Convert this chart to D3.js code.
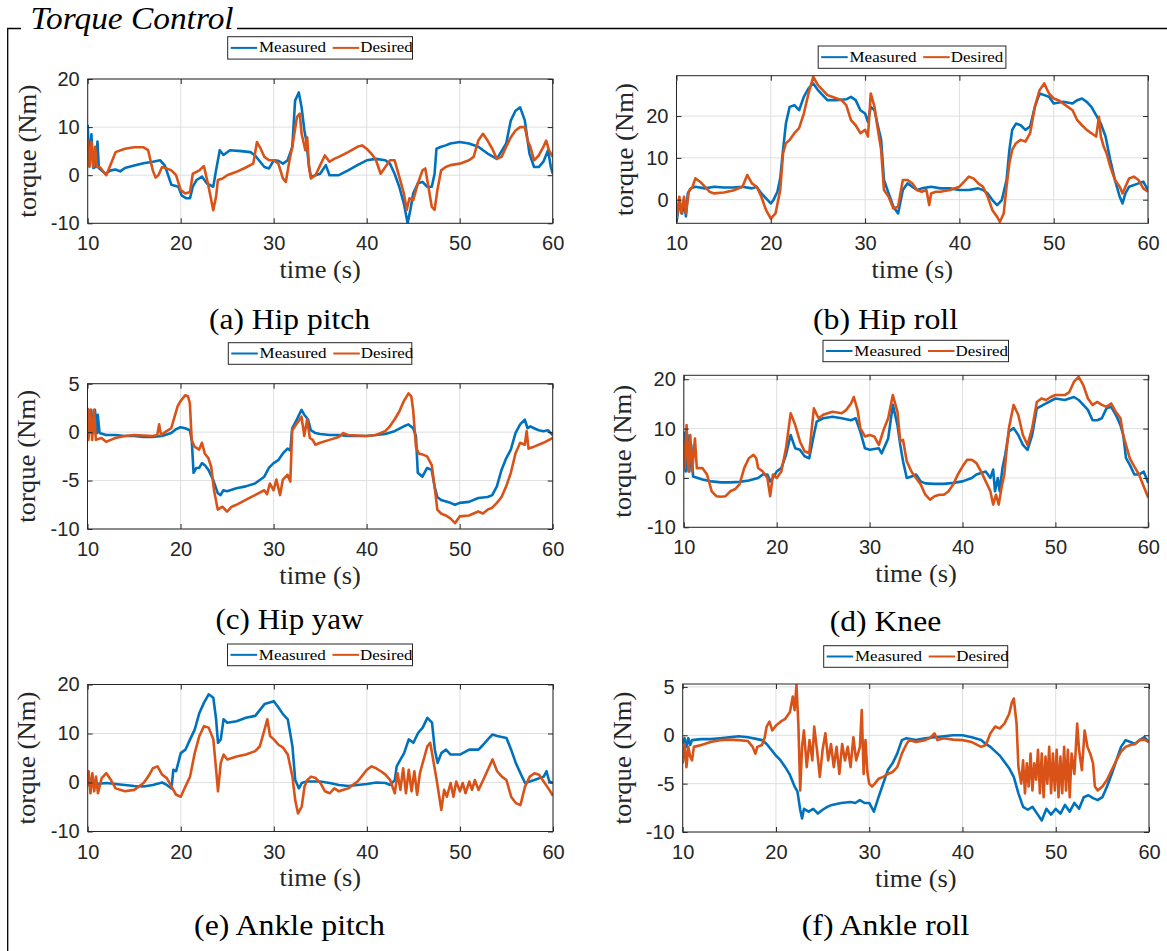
<!DOCTYPE html>
<html><head><meta charset="utf-8">
<script src="https://cdn.jsdelivr.net/npm/d3@7"></script>
<style>body{margin:0;background:#fff}</style>
</head><body>
<svg id="chart" width="1167" height="951"></svg>
<script>
// ---------------- DATA ----------------
const title = "Torque Control";
const seriesNames = ["Measured", "Desired"];
const xTicks = [10, 20, 30, 40, 50, 60];
const captions = ["(a) Hip pitch", "(b) Hip roll", "(c) Hip yaw", "(d) Knee", "(e) Ankle pitch", "(f) Ankle roll"];
const yTicksA = [-10, 0, 10, 20];
const yTicksB = [0, 10, 20];
const yTicksC = [-10, -5, 0, 5];
const yTicksD = [-10, 0, 10, 20];
const yTicksE = [-10, 0, 10, 20];
const yTicksF = [-10, -5, 0, 5];
const yLimA = [-10, 20], yLimB = [-5.65, 29.65], yLimC = [-10, 5], yLimD = [-10, 20.8], yLimE = [-10, 20], yLimF = [-10, 5.3];

const hipPitchMeasured = [[10,10.5],[10.15,2],[10.4,8.5],[10.6,1.5],[10.9,1.8],[11.05,7],[11.2,1.5],[11.9,0.3],[12.5,1],[13,1.2],[13.5,0.8],[14,1.5],[15,2],[16,2.5],[17,2.8],[17.8,3.1],[18.3,2],[19,-2],[19.75,-2.4],[20.1,-4.2],[20.6,-4.8],[21,-4.8],[21.3,-2.4],[21.7,-1],[22.3,-0.3],[22.8,-1.7],[23.5,-2.4],[23.8,1],[24.2,5.2],[24.6,4.2],[25.3,5.2],[26.5,5],[27.5,4.8],[28,4.1],[29,1.7],[29.5,1.4],[30,3.1],[30.5,3],[31,2.4],[31.5,3.1],[32,5.9],[32.3,15.5],[32.7,17.2],[33,14.1],[33.3,9.3],[33.5,7.2],[33.8,1.7],[34,-0.3],[34.5,0],[35,0.3],[35.6,2.1],[36,0],[37,0],[38,1],[39,2.1],[40,3.1],[41,3.4],[42,3.1],[42.5,2.4],[43,0.3],[43.5,-2.4],[44,-5.9],[44.4,-10],[44.7,-7.2],[45,-3.8],[45.5,-1.7],[46,-1.4],[46.5,-2.4],[47,-2.4],[47.3,0.3],[47.5,5.5],[48,5.9],[48.5,6.2],[49,6.6],[50,6.9],[51,6.6],[52,5.9],[53,4.5],[54,3.4],[55,6.6],[55.5,11.4],[56,13.4],[56.5,14.1],[57,11.4],[57.5,4.5],[58,1.7],[58.5,1.7],[59,2.8],[59.5,5.2],[59.8,1.7],[60,0.3]];
const hipPitchDesired = [[10,7.3],[10.2,1.7],[10.4,6.9],[10.6,1.7],[10.8,5.9],[11,1.7],[11.3,1.7],[12,0],[12.5,2.4],[13,4.8],[14,5.5],[15,5.8],[16,5.8],[16.5,5.2],[17,1],[17.3,-0.5],[17.6,0],[18,1.7],[18.5,1.4],[19,1],[19.5,0],[20,-3.1],[20.5,-3.8],[21,-3.5],[21.3,0.3],[22,1],[22.5,1.9],[23,-2.4],[23.5,-7.3],[23.8,-4.5],[24,-1],[24.5,-0.7],[25,0],[26,0.7],[27,1.6],[27.8,2.4],[28.2,6.9],[28.6,5.5],[29,3.8],[29.5,3.1],[30,3.1],[30.5,2.4],[31,-0.7],[31.3,-1.4],[31.7,3.1],[32,5.9],[32.5,12.1],[32.8,12.8],[33,8.6],[33.4,5.2],[33.6,7.9],[33.8,1.7],[34,-0.7],[34.5,0],[35,2.1],[35.5,4.1],[36,2.8],[36.5,3.4],[37,3.8],[38,4.8],[39,5.9],[39.5,6.2],[40,5.5],[40.5,4.5],[41,3.1],[41.5,0.3],[42,1.7],[42.5,3.1],[43,3.1],[43.5,-0.3],[44,-3.8],[44.3,-7.2],[44.6,-4.8],[45,-5.2],[45.5,-1.7],[46,1],[46.3,1.4],[46.6,-2],[47,-6.6],[47.3,-7.2],[47.6,-3.1],[48,1],[48.5,1.7],[49,2.1],[50,2.4],[51,3.1],[51.5,3.8],[52,7.2],[52.5,8.6],[53,7.2],[53.5,5.5],[54,3.4],[54.5,3.8],[55,5.9],[55.5,7.9],[56,9.3],[56.5,10],[57,10],[57.3,7.2],[57.6,5.9],[58,3.1],[58.5,4.1],[59,5.9],[59.3,7.2],[59.6,5.2],[60,3.8]];

const hipRollMeasured = [[10,-5.3],[10.3,-0.9],[10.6,-3.3],[10.8,0],[11,-4],[11.2,1.5],[11.5,2.7],[12,3.1],[13,2.7],[14,3.1],[15,2.9],[16,2.9],[17,3.1],[18,2.7],[18.5,3.1],[19,1.5],[19.5,0.3],[20,-0.9],[20.3,0],[20.7,1.9],[21,5.1],[21.3,11.9],[21.6,18.2],[22,22.2],[22.5,22.6],[23,21.4],[23.5,24.6],[24,26.6],[24.5,27.8],[25,26.2],[25.5,25],[26,23.8],[27,23.8],[28,24],[28.5,24.6],[29,23.8],[29.5,21.4],[30,20.6],[30.3,18.6],[30.6,22.2],[31,21.4],[31.3,18.2],[31.7,14.3],[32,4.7],[32.5,1.5],[33,-1.7],[33.5,-3.3],[34,2.3],[34.5,3.9],[35,3.1],[35.5,2.3],[36,2.7],[37,3.1],[38,2.7],[39,2.7],[40,2.3],[41,2.3],[42,2.7],[42.5,2.3],[43,1.5],[43.5,-0.1],[44,-1.3],[44.5,-0.1],[45,4.7],[45.3,11.9],[45.6,16.7],[46,18.2],[46.5,17.8],[47,16.7],[47.5,17.5],[48,22.2],[48.5,25.4],[49,25],[49.5,24.6],[50,23],[51,23.4],[52,23],[52.5,23.8],[53,24.2],[53.5,23.4],[54,22.2],[54.5,20.2],[55,18.2],[55.5,15.1],[56,9.5],[56.5,4.7],[57,0.7],[57.3,-0.9],[57.6,1.5],[58,3.1],[59,3.9],[59.5,4.3],[60,2.3]];
const hipRollDesired = [[10,-4.5],[10.3,0.7],[10.5,-3.3],[10.8,0.7],[11,-3.3],[11.3,1.9],[11.7,3.1],[12,5.1],[12.5,4.3],[13,3.1],[13.5,1.9],[14,1.5],[15,1.7],[16,2.2],[17,3.1],[17.5,5.9],[18,3.9],[18.5,3.1],[19,0.7],[19.5,-2.5],[20,-4.5],[20.5,-3.3],[21,2.3],[21.3,11.1],[21.6,13.5],[22,14.3],[22.5,15.9],[23,17.1],[23.5,20.6],[24,25.4],[24.5,29.4],[25,27.4],[25.5,26.2],[26,25],[26.5,24.6],[27,24.2],[27.5,23.8],[28,22.6],[28.5,19],[29,17.8],[29.5,15.9],[30,16.7],[30.3,15.1],[30.6,25.4],[31,22.2],[31.3,17.5],[31.7,11.9],[32,2.3],[32.5,0.7],[33,-2.1],[33.5,-1.7],[34,4.7],[34.5,4.7],[35,3.9],[35.5,2.3],[36,1.9],[36.5,2.3],[36.8,-1.3],[37,1.5],[37.5,1.9],[38,1.9],[39,2.3],[40,3.1],[41,5.5],[41.5,5.1],[42,3.9],[42.5,3.1],[43,0.7],[43.5,-2.5],[44,-4.1],[44.3,-5.3],[44.7,-3.3],[45,3.1],[45.3,8.7],[45.6,11.9],[46,13.5],[46.5,14.3],[47,13.9],[47.5,15.9],[48,22.2],[48.5,26.2],[49,27.8],[49.5,25.4],[50,24.2],[50.5,23.8],[51,23],[51.5,22.2],[52,21.4],[52.5,19],[53,17.8],[53.5,16.7],[54,15.9],[54.5,15.1],[54.8,19.8],[55,15.1],[55.3,12.7],[55.6,11.1],[56,7.9],[56.5,4.7],[57,3.1],[57.3,1.5],[57.6,3.1],[58,5.1],[58.5,5.5],[59,4.7],[59.5,2.7],[60,1.9]];

const hipYawMeasured = [[10,2.5],[10.2,-0.1],[10.4,2.3],[10.6,-0.1],[10.8,2.3],[11,-0.1],[11.1,1.8],[11.3,-0.1],[12,-0.3],[13,-0.3],[14,-0.4],[15,-0.4],[16,-0.5],[17,-0.5],[18,-0.4],[19,-0.1],[19.5,0.3],[20,0.5],[20.5,0.4],[21,0.2],[21.2,-0.8],[21.4,-4.2],[21.7,-3.7],[22,-3.7],[22.3,-3.2],[22.6,-3.4],[23,-3.9],[23.5,-4.9],[24,-6.3],[24.3,-6.5],[24.6,-6],[25,-6.1],[26,-5.8],[27,-5.6],[28,-5.3],[29,-4.6],[29.5,-3.7],[30,-3.2],[30.5,-2.9],[31,-2.2],[31.5,-1.7],[31.8,-1.9],[32,0.4],[32.5,1.3],[33,2.3],[33.3,1.8],[33.7,1.3],[34,0.2],[34.5,-0.1],[35,-0.2],[36,-0.3],[37,-0.3],[38,-0.4],[39,-0.4],[40,-0.4],[41,-0.3],[42,-0.2],[43,0.1],[44,0.6],[44.5,0.8],[45,0.4],[45.3,-0.4],[45.5,-4.2],[46,-4.6],[46.5,-3.7],[47,-3.9],[47.3,-5.6],[47.6,-6.7],[48,-7],[49,-7.3],[49.5,-7.5],[50,-7.3],[51,-7.2],[52,-6.8],[53,-6.7],[53.5,-6.5],[54,-5.6],[54.5,-3.9],[55,-2.7],[55.5,-1.8],[56,-0.1],[56.5,0.8],[57,1.3],[57.3,0.4],[57.6,0.6],[58,0.4],[58.5,0.2],[59,0.1],[59.5,0.2],[60,-0.3]];
const hipYawDesired = [[10,2.5],[10.1,-0.8],[10.3,2.3],[10.5,-0.8],[10.7,2.3],[10.9,-0.8],[11.5,-0.6],[12,-1],[12.5,-0.8],[13,-0.6],[14,-0.4],[15,-0.3],[16,-0.35],[17,-0.4],[17.5,-0.3],[17.7,0.8],[17.9,-0.3],[18.5,0.1],[19,0.4],[19.3,1.4],[19.7,2.7],[20,3.2],[20.5,3.8],[20.8,3.7],[21,3],[21.2,-0.8],[21.5,-1.5],[22,-1.8],[22.3,-1.1],[22.6,-2.2],[23,-2.7],[23.3,-3.6],[23.6,-6],[24,-8],[24.5,-7.7],[25,-8.2],[25.5,-7.7],[26,-7.5],[27,-7],[28,-6.5],[29,-6],[29.3,-6.4],[29.6,-5.3],[30,-6],[30.3,-4.9],[30.7,-6.5],[31,-4.9],[31.5,-4.4],[31.8,-5.1],[32,0.2],[32.5,0.9],[32.8,1.3],[33,1.6],[33.3,-0.4],[33.6,1.3],[33.9,-0.6],[34.2,-0.8],[34.5,-1.3],[35,-1.1],[36,-0.8],[37,-0.5],[37.5,-0.1],[38,-0.3],[39,-0.35],[40,-0.4],[41,-0.3],[42,0.1],[42.5,0.6],[43,1.3],[43.5,2.1],[44,3.2],[44.5,4],[44.8,3.7],[45,2.3],[45.3,-1.5],[45.6,-2.2],[46,-2.3],[46.5,-2.5],[47,-3.4],[47.3,-5.6],[47.6,-8],[48,-8.4],[48.5,-8.6],[49,-8.9],[49.5,-9.4],[50,-8.7],[51,-8.6],[52,-8.2],[52.5,-8.4],[53,-8],[53.5,-7.8],[54,-7.3],[54.5,-6.7],[55,-5.6],[55.5,-4.2],[56,-2.2],[56.5,-1.1],[57,-1.3],[57.2,0.1],[57.4,-1.7],[58,-1.5],[59,-1.1],[60,-0.6]];

const kneeMeasured = [[10,9.4],[10.2,1.3],[10.4,8.7],[10.6,1.3],[10.8,6.7],[11,0.3],[11.5,0],[12,-0.3],[13,-0.7],[14,-0.9],[15,-0.9],[16,-0.8],[17,-0.5],[18,0],[18.5,0.7],[19,0.7],[19.3,-0.7],[19.6,0],[20,1.3],[20.5,2],[21,4.7],[21.5,8.7],[22,6],[22.5,5.7],[23,4.4],[23.5,4],[24,8.7],[24.3,11.4],[25,12.1],[26,12.4],[27,12.1],[28,11.7],[28.5,12.1],[29,9.4],[29.5,6],[30,5.7],[31,6],[31.3,5],[31.7,6.7],[32,8],[32.5,14.8],[33,10.7],[33.3,6.7],[33.6,3.4],[34,0],[34.5,0.3],[35,0.7],[35.5,-0.7],[36,-1.1],[37,-1.2],[38,-1.2],[39,-1],[40,-0.7],[41,0],[41.5,0.7],[42,1],[42.5,1.3],[43,0],[43.3,1.7],[43.5,-2.7],[43.8,0],[44,-2.7],[44.3,2],[44.6,4.7],[45,9.4],[45.5,10.1],[46,8.7],[46.5,6.7],[47,5.7],[47.5,8.7],[48,14.1],[49,15.1],[50,16.1],[51,15.8],[52,16.4],[52.5,15.8],[53,14.8],[53.5,13.8],[54,11.7],[54.5,11.7],[55,12.1],[55.5,14.1],[56,14.4],[56.5,12.8],[57,10.7],[57.3,8.7],[57.6,4],[58,2.7],[58.5,0.7],[59,0.7],[59.5,1.3],[60,-1]];
const kneeDesired = [[10,7.4],[10.1,2],[10.3,10.7],[10.5,1.3],[10.7,8.7],[10.9,1.3],[11.2,8],[11.4,2],[12,2],[12.5,0.7],[13,-2.7],[13.5,-3.7],[14,-3.8],[14.5,-3.7],[15,-2.7],[15.5,-2.3],[16,-1.3],[16.5,2],[17,4],[17.5,4.7],[17.8,4],[18,2],[18.5,1.3],[19,0],[19.3,-3.7],[19.6,0.7],[20,0],[20.5,1.3],[21,6],[21.5,13.1],[22,10.7],[22.5,7.4],[23,5.4],[23.5,5],[24,14.1],[24.5,12.1],[25,12.8],[26,13.4],[27,13.1],[27.5,13.8],[28,15.1],[28.3,16.4],[28.7,13.8],[29,10.1],[29.5,8.4],[30,8.7],[30.5,8.4],[31,6.7],[31.5,9.7],[32,12.1],[32.5,16.8],[33,13.4],[33.3,7.4],[33.6,7.7],[34,3.4],[34.5,1.3],[35,0],[35.5,-1.3],[36,-3.4],[36.5,-4.4],[37,-3.7],[37.5,-3.4],[38,-3.4],[38.5,-2.7],[39,-1.3],[39.5,0.7],[40,2.3],[40.5,3.7],[41,3.7],[41.5,3],[42,1.3],[42.5,-0.7],[43,-2.7],[43.3,-5.4],[43.6,-3.4],[43.9,-5.4],[44.2,-2],[44.5,0.7],[44.8,6.7],[45,10.1],[45.5,14.8],[46,12.8],[46.5,8.7],[47,6.7],[47.5,10.1],[48,15.4],[48.5,16.1],[49,15.8],[49.5,16.4],[50,16.8],[51,16.8],[51.5,17.4],[52,19.5],[52.5,20.5],[53,18.8],[53.5,16.1],[54,14.8],[54.5,15.4],[55,14.8],[55.5,14.4],[56,15.1],[56.5,13.4],[57,12.1],[57.3,8.7],[57.6,6.7],[58,4],[58.5,2.3],[59,0.7],[59.5,-1.7],[60,-4]];

const anklePitchMeasured = [[10,1.9],[10.3,-0.1],[10.6,0.5],[11,-0.3],[12,-0.1],[13,-0.3],[14,-0.5],[15,-0.7],[16,-0.8],[17,-0.5],[18,0],[18.5,-0.5],[19,-1.2],[19.2,2.6],[19.5,2.3],[20,6],[20.5,6.7],[21,8.8],[21.5,10.8],[22,14.2],[22.5,16.3],[23,18],[23.5,17.3],[23.8,12.9],[24,8.1],[24.3,8.8],[24.6,12.9],[25,12.2],[26,12.5],[27,13.2],[28,13.6],[29,16],[30,16.6],[30.5,15.3],[31,13.9],[31.5,12.9],[32,7.4],[32.3,0.5],[32.7,-1.2],[33,-0.1],[33.5,0.2],[34,0.2],[35,0.2],[36,-0.1],[37,-0.5],[38,-0.7],[39,-0.5],[40,-0.3],[41,0],[42,-0.1],[42.5,-0.5],[43,0.5],[43.2,3.3],[44,6],[44.5,8.8],[45,8.1],[45.5,10.1],[46,11.2],[46.5,13.2],[47,12.2],[47.3,6.7],[47.6,4],[48,6],[48.5,6.7],[49,5.7],[50,5.7],[51,6.7],[52,6.7],[52.5,7.7],[53,8.8],[53.5,9.8],[54,9.5],[55,9.1],[55.5,6.7],[56,4],[56.5,1.9],[57,-0.1],[57.5,0.2],[58,0.5],[59,1.2],[59.3,2.3],[59.6,0.2],[60,-0.1]];
const anklePitchDesired = [[10,-0.8],[10.1,2.3],[10.3,-2.2],[10.5,1.9],[10.7,-1.8],[10.9,1.2],[11.1,-2.2],[11.5,0.9],[12,1.9],[12.5,0.5],[13,-1.2],[14,-1.8],[15,-1.5],[16,-0.1],[16.5,1.2],[17,2.9],[17.5,3.3],[18,1.6],[18.5,0.9],[19,-0.8],[19.5,-2.5],[20,-2.9],[20.5,-0.8],[21,1.2],[21.5,6],[22,9.5],[22.5,11.5],[23,11.2],[23.5,8.8],[23.8,2.6],[24,-1.8],[24.3,4],[24.6,5.7],[25,4.7],[26,5.3],[27,5.7],[28,6.4],[28.5,7.4],[29,10.8],[29.3,12.9],[29.6,9.5],[30,8.8],[30.5,7.7],[31,7.1],[31.5,5.7],[32,1.2],[32.3,-3.6],[32.6,-6.3],[33,-4.9],[33.3,-0.8],[33.6,0.5],[34,1.2],[34.5,0.9],[35,-0.1],[35.5,-1.8],[36,-2.2],[36.5,-1.2],[37,-1.8],[37.5,-1.5],[38,-1.2],[39,0.2],[40,2.6],[40.5,3.3],[41,2.9],[41.5,2.3],[42,1.6],[42.5,0.5],[43,-2.2],[43.3,1.9],[43.6,-1.5],[43.9,2.9],[44.2,-2.2],[44.5,2.6],[44.8,-1.8],[45.1,2.3],[45.4,-2.5],[45.7,1.9],[46,4],[46.5,7.4],[46.8,8.1],[47,6],[47.5,0.5],[48,-5.6],[48.3,-1.5],[48.6,-2.9],[49,-0.1],[49.3,-2.9],[49.6,0.2],[50,-1.8],[50.3,-0.1],[50.6,-2.2],[51,0.2],[51.3,-1.5],[51.6,0.5],[52,-1.5],[52.5,0.5],[53,2.6],[53.5,4.7],[54,2.3],[54.5,1.2],[55,0.5],[55.5,-2.9],[56,-4.2],[56.5,-4.6],[57,-0.8],[57.5,1.2],[58,1.9],[58.5,1.6],[59,0.2],[59.5,-1.2],[60,-2.7]];

const ankleRollMeasured = [[10,-0.9],[10.2,-0.3],[10.4,-1.2],[10.6,-0.3],[10.8,-1],[11,-0.5],[12,-0.4],[13,-0.4],[14,-0.3],[15,-0.2],[16,-0.1],[17,-0.2],[18,-0.4],[18.5,-0.5],[19,-0.9],[19.5,-1.5],[20,-2.1],[20.5,-2.6],[21,-3.3],[21.5,-4.1],[22,-5.3],[22.3,-5.8],[22.6,-7.7],[22.8,-8.6],[23,-7.6],[23.5,-7.9],[24,-7.6],[24.5,-8.1],[25,-7.7],[25.5,-7.4],[26,-7.2],[27,-7],[28,-6.9],[28.5,-7],[29,-6.7],[29.5,-7],[30,-7],[30.5,-7.9],[31,-6.4],[31.5,-5],[32,-3.6],[32.5,-2.9],[33,-1.9],[33.5,-0.5],[34,-0.3],[35,-0.5],[36,-0.3],[37,-0.2],[38,-0.1],[39,0],[40,0],[41,-0.2],[42,-0.5],[42.5,-0.9],[43,-1.2],[44,-2.1],[45,-3.4],[45.5,-4.3],[46,-6],[46.5,-7.4],[47,-7.7],[47.5,-7.4],[48,-8.1],[48.5,-8.8],[49,-7.6],[49.5,-8.2],[50,-7.6],[50.5,-8.1],[51,-7.2],[51.5,-7.9],[52,-7],[52.5,-7.6],[53,-6.4],[53.5,-6.2],[54,-6.5],[54.5,-6.7],[55,-6.4],[55.5,-5.3],[56,-4],[56.5,-2.6],[57,-1.2],[57.5,-0.5],[58,-0.7],[58.5,-0.9],[59,-0.5],[59.5,-0.2],[60,-0.7]];
const ankleRollDesired = [[10,-2.9],[10.2,-0.9],[10.4,-3.3],[10.6,-1.2],[10.8,-2.2],[11,-2.6],[11.2,-1.2],[12,-1],[13,-0.7],[14,-0.5],[15,-0.45],[16,-0.5],[17,-0.6],[17.5,-1.2],[17.8,-1.9],[18,-1.2],[18.5,-1],[18.8,-0.2],[19,0.9],[19.3,1.4],[19.6,0.5],[20,1],[20.5,1.4],[21,1.7],[21.5,2.4],[21.8,4],[22,2.6],[22.2,5.2],[22.4,1.2],[22.6,-5.7],[22.8,-1.2],[23,0.5],[23.3,-3.3],[23.6,-0.5],[23.9,-2.6],[24.1,0.9],[24.4,-1.5],[24.7,-4.3],[25,-1.5],[25.3,0.2],[25.6,-2.6],[25.9,-0.9],[26.2,-3.3],[26.5,-1.2],[26.8,-4],[27.1,-0.9],[27.4,-2.6],[27.7,-1.2],[28,-3.3],[28.3,-0.2],[28.6,-2.6],[29,-1.2],[29.2,2.6],[29.4,-4],[29.6,-0.5],[29.8,-3.8],[30,-5],[30.3,-5.3],[30.6,-5],[31,-4.5],[31.5,-4.3],[32,-4],[32.5,-3.8],[33,-3.3],[33.5,-1.9],[34,-0.9],[34.3,-0.5],[35,-0.7],[36,-0.5],[36.5,-0.3],[37,0.2],[37.3,-0.5],[38,-0.3],[39,-0.45],[40,-0.5],[41,-0.7],[42,-1.2],[42.5,-1],[43,0.2],[43.5,0.9],[44,0.7],[44.5,1.2],[45,2.2],[45.3,3.4],[45.5,3.8],[45.8,1.2],[46,-3.3],[46.3,-5],[46.5,-2.6],[46.7,-6],[46.9,-2.9],[47.1,-5.3],[47.3,-1.9],[47.5,-5.7],[47.7,-2.9],[47.9,-4.6],[48.1,-1.5],[48.3,-6],[48.5,-1.9],[48.7,-6.4],[48.9,-2.2],[49.1,-5],[49.3,-1.2],[49.5,-6],[49.7,-1.9],[49.9,-5.7],[50.1,-1.5],[50.3,-6.4],[50.5,-2.2],[50.7,-6],[50.9,-1.2],[51.1,-5.7],[51.3,-1.5],[51.5,-6.4],[51.7,-1.9],[52,-4],[52.3,1.2],[52.5,-1.5],[52.8,-3.6],[53.1,0.5],[53.4,-1.2],[53.7,-1.9],[54,-2.9],[54.2,-5.3],[54.5,-5.7],[55,-5.3],[55.5,-4.6],[56,-3.6],[56.5,-2.6],[57,-1.7],[57.5,-1.2],[58,-1],[58.5,-0.9],[59,-0.5],[59.5,-0.45],[60,-0.7]];

// ---------------- LAYOUT ----------------
const panels = [
  {m: hipPitchMeasured,   d: hipPitchDesired,   lim: yLimA, ticks: yTicksA, box: {l: 87.7, r: 552.7, t: 79,    b: 223.3}, leg: {x: 227.7, y: 36.7,  w: 184.8, h: 22.4}, cap: {x: 289.5, y: 328.5, w: 161},   ylx: 36},
  {m: hipRollMeasured,    d: hipRollDesired,    lim: yLimB, ticks: yTicksB, box: {l: 676.5, r: 1148,  t: 75.7,  b: 223.3}, leg: {x: 818.2, y: 46,    w: 187.7, h: 22.3}, cap: {x: 885.5, y: 328.5, w: 145},   ylx: 633},
  {m: hipYawMeasured,     d: hipYawDesired,     lim: yLimC, ticks: yTicksC, box: {l: 87.5, r: 552.7, t: 383.7, b: 529},   leg: {x: 228.3, y: 342.7, w: 183.5, h: 21.6}, cap: {x: 289.5, y: 629,   w: 148},   ylx: 35},
  {m: kneeMeasured,       d: kneeDesired,       lim: yLimD, ticks: yTicksD, box: {l: 683.8, r: 1148.3, t: 375.3, b: 527.3}, leg: {x: 823,   y: 340.3, w: 185.5, h: 21.4}, cap: {x: 885.5, y: 631,   w: 111.5}, ylx: 631},
  {m: anklePitchMeasured, d: anklePitchDesired, lim: yLimE, ticks: yTicksE, box: {l: 87.7, r: 553,   t: 684.5, b: 831.5}, leg: {x: 227.5, y: 644,   w: 185,   h: 21.7}, cap: {x: 289.5, y: 935,   w: 190.8}, ylx: 35},
  {m: ankleRollMeasured,  d: ankleRollDesired,  lim: yLimF, ticks: yTicksF, box: {l: 682.7, r: 1149,  t: 684,   b: 832},   leg: {x: 823.7, y: 645.7, w: 184,   h: 21.6}, cap: {x: 885.5, y: 935,   w: 167.4}, ylx: 631}
];
const colors = ["#0072BD", "#D95319"];
const axisColor = "#262626";
const gridColor = "#dfdfdf";
const sans = "'Liberation Sans', Arial, sans-serif";
const serif = "'Liberation Serif', 'Times New Roman', serif";

const svg = d3.select("#chart");
svg.append("rect").attr("width", 1167).attr("height", 951).attr("fill", "#fff");

// frame + title
const frame = svg.append("g").attr("stroke", "#000").attr("stroke-width", 1.3).attr("fill", "none");
frame.append("path").attr("d", "M7.7,951 L7.7,28.5 L21,28.5");
frame.append("path").attr("d", "M237,28.5 L1167,28.5");
svg.append("text").text(title).attr("x", 30.6).attr("y", 29).attr("font-family", serif)
  .attr("font-style", "italic").attr("font-size", 31).attr("textLength", 203)
  .attr("lengthAdjust", "spacingAndGlyphs").attr("fill", "#000");

panels.forEach((p, i) => {
  const x = d3.scaleLinear().domain([10, 60]).range([p.box.l, p.box.r]);
  const y = d3.scaleLinear().domain(p.lim).range([p.box.b, p.box.t]);
  const g = svg.append("g");
  const W = p.box.r - p.box.l, H = p.box.b - p.box.t;

  g.append("rect").attr("x", p.box.l).attr("y", p.box.t).attr("width", W).attr("height", H).attr("fill", "#fff");
  // grid
  g.append("g").selectAll("line").data(xTicks).join("line")
    .attr("x1", d => x(d)).attr("x2", d => x(d)).attr("y1", p.box.t).attr("y2", p.box.b)
    .attr("stroke", gridColor).attr("stroke-width", 1);
  g.append("g").selectAll("line").data(p.ticks).join("line")
    .attr("y1", d => y(d)).attr("y2", d => y(d)).attr("x1", p.box.l).attr("x2", p.box.r)
    .attr("stroke", gridColor).attr("stroke-width", 1);

  // clip
  const cid = "clip" + i;
  svg.append("clipPath").attr("id", cid).append("rect")
    .attr("x", p.box.l).attr("y", p.box.t).attr("width", W).attr("height", H);

  const line = d3.line().x(d => x(d[0])).y(d => y(d[1]));
  [p.m, p.d].forEach((s, k) => {
    g.append("path").datum(s).attr("d", line).attr("clip-path", `url(#${cid})`)
      .attr("fill", "none").attr("stroke", colors[k]).attr("stroke-width", 2.6)
      .attr("stroke-linejoin", "round");
  });

  // axes
  const fmt = d => String(d);
  const styleAxis = sel => {
    sel.select(".domain").remove();
    sel.selectAll("line").attr("stroke", axisColor);
    sel.selectAll("text").attr("fill", axisColor).attr("font-family", sans).attr("font-size", 20);
  };
  g.append("g").attr("transform", `translate(0,${p.box.b})`)
    .call(d3.axisBottom(x).tickValues(xTicks).tickFormat(fmt).tickSize(-5).tickPadding(13)).call(styleAxis);
  g.append("g").attr("transform", `translate(0,${p.box.t})`)
    .call(d3.axisTop(x).tickValues(xTicks).tickFormat("").tickSize(-5)).call(styleAxis);
  g.append("g").attr("transform", `translate(${p.box.l},0)`)
    .call(d3.axisLeft(y).tickValues(p.ticks).tickFormat(fmt).tickSize(-5).tickPadding(8)).call(styleAxis);
  g.append("g").attr("transform", `translate(${p.box.r},0)`)
    .call(d3.axisRight(y).tickValues(p.ticks).tickFormat("").tickSize(-5)).call(styleAxis);
  g.append("rect").attr("x", p.box.l).attr("y", p.box.t).attr("width", W).attr("height", H)
    .attr("fill", "none").attr("stroke", axisColor).attr("stroke-width", 1);

  // axis labels
  g.append("text").text("time (s)").attr("x", (p.box.l + p.box.r) / 2).attr("y", p.box.b + 54.5)
    .attr("text-anchor", "middle").attr("font-family", serif).attr("font-size", 25)
    .attr("textLength", 81.5).attr("lengthAdjust", "spacingAndGlyphs").attr("fill", axisColor);
  g.append("text").text("torque (Nm)")
    .attr("transform", `translate(${p.ylx},${(p.box.t + p.box.b) / 2}) rotate(-90)`)
    .attr("text-anchor", "middle").attr("font-family", serif).attr("font-size", 25)
    .attr("textLength", 133).attr("lengthAdjust", "spacingAndGlyphs").attr("fill", axisColor);

  // caption
  svg.append("text").text(captions[i]).attr("x", p.cap.x).attr("y", p.cap.y)
    .attr("text-anchor", "middle").attr("font-family", serif).attr("font-size", 30)
    .attr("textLength", p.cap.w).attr("lengthAdjust", "spacingAndGlyphs").attr("fill", "#000");

  // legend
  const lg = svg.append("g").attr("transform", `translate(${p.leg.x},${p.leg.y})`);
  lg.append("rect").attr("width", p.leg.w).attr("height", p.leg.h).attr("fill", "#fff")
    .attr("stroke", axisColor).attr("stroke-width", 1);
  const items = [{x0: 3, tx: 31.3, tl: 67}, {x0: 105, tx: 132.5, tl: 52.5}];
  items.forEach((it, k) => {
    lg.append("line").attr("x1", it.x0).attr("x2", it.x0 + 26.5).attr("y1", p.leg.h / 2).attr("y2", p.leg.h / 2)
      .attr("stroke", colors[k]).attr("stroke-width", 2);
    lg.append("text").text(seriesNames[k]).attr("x", it.tx).attr("y", 15.7)
      .attr("font-family", serif).attr("font-size", 15.5).attr("textLength", it.tl)
      .attr("lengthAdjust", "spacingAndGlyphs").attr("fill", "#000");
  });
});
</script>
</body></html>
